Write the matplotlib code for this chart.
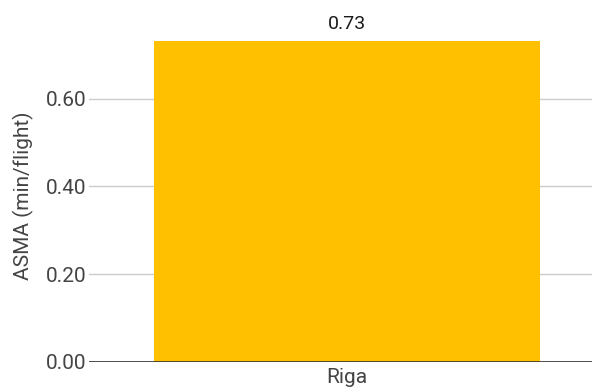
import matplotlib
matplotlib.use("Agg")
import matplotlib.pyplot as plt

# dati
airports = ["Riga"]
asma = [0.73]
yticks = [0.0, 0.2, 0.4, 0.6]

plt.rcParams['font.family'] = ['Roboto', 'DejaVu Sans']

fig = plt.figure(figsize=(5.92, 3.9), dpi=100)
ax = fig.add_axes([0.1503, 0.0718, 0.8497, 0.8513])

bars = ax.bar(range(len(airports)), asma, width=0.767, color='#FFC000', zorder=2)
for b, v in zip(bars, asma):
    ax.annotate(f"{v:.2f}", (b.get_x() + b.get_width() / 2, v), xytext=(0, 6),
                textcoords='offset points', ha='center', va='bottom',
                fontsize=14, color='#1a1a1a')

ax.set_xlim(-0.513, 0.487)
ax.set_ylim(0, 0.756)
ax.set_xticks(range(len(airports)))
ax.set_xticklabels(airports)
ax.set_yticks(yticks)
ax.set_yticklabels([f"{t:.2f}" for t in yticks])
ax.tick_params(axis='both', length=0, labelsize=15, colors='#444444')
ax.tick_params(axis='y', pad=2)
ax.tick_params(axis='x', pad=4)

ax.grid(axis='y', color='#cccccc', linewidth=1, zorder=0)
ax.axhline(0, color='#333333', linewidth=1.2, zorder=3)
for s in ax.spines.values():
    s.set_visible(False)

ax.set_ylabel("ASMA (min/flight)", fontsize=15, color='#444444', labelpad=8)

fig.savefig("out.png", dpi=100)
